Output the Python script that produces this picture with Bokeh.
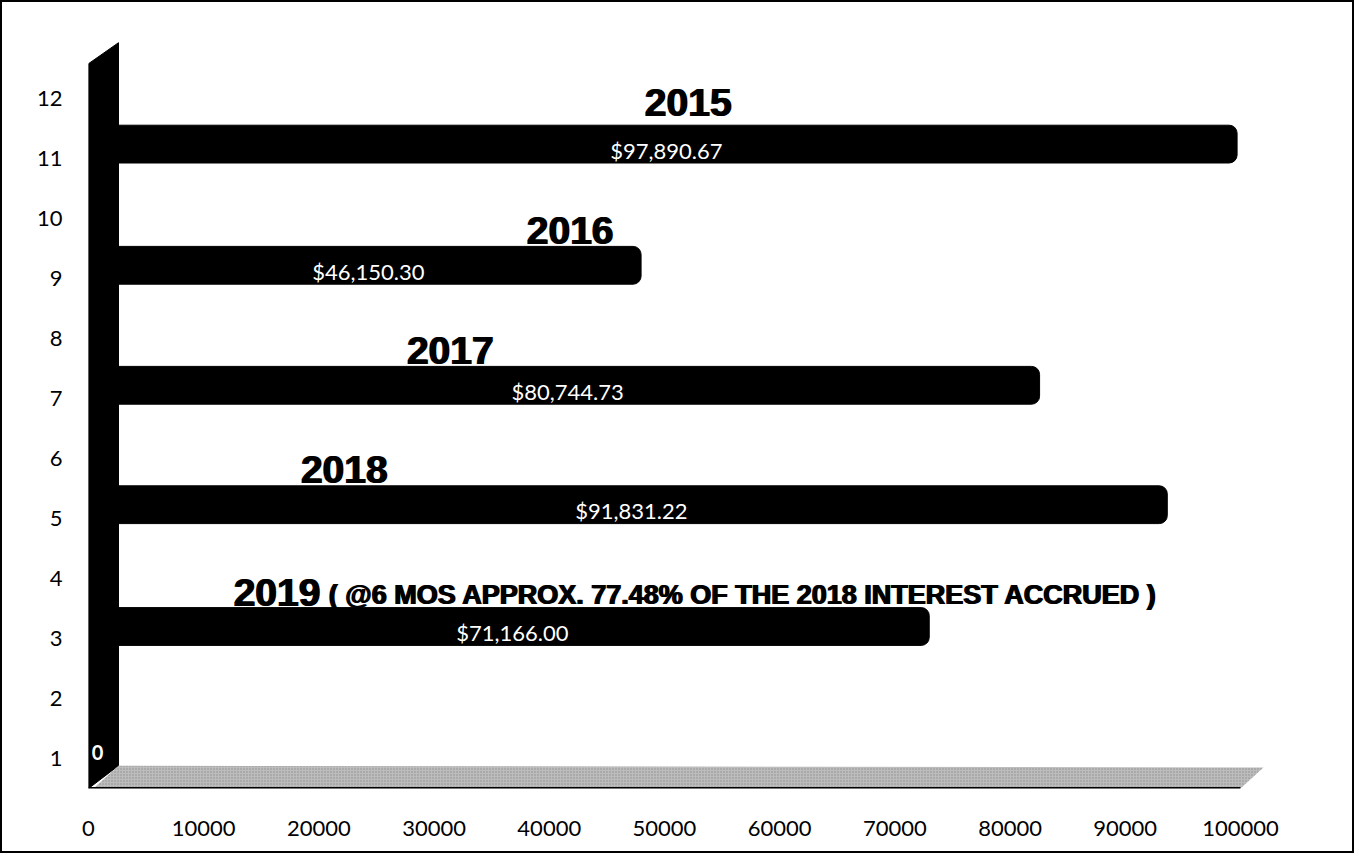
from bokeh.plotting import figure
from bokeh.models import Range1d, FixedTicker, NumeralTickFormatter, ColumnDataSource, InlineStyleSheet
from bokeh.core.properties import value
from bokeh.embed import file_html
from bokeh.resources import INLINE

# ---- data ----
years = ["2015", "2016", "2017", "2018", "2019"]
amounts = [97890.67, 46150.30, 80744.73, 91831.22, 71166.00]
bar_y = [11.24, 9.22, 7.22, 5.23, 3.20]
year_label_x = [52000, 41750, 31340, 22140, 16300]
year_label_y = [11.93, 9.80, 7.80, 5.82, 3.76]
note_text = "( @6 MOS APPROX. 77.48% OF THE 2018 INTEREST ACCRUED )"
note_x = 20800
note_y = 3.72
x_ticks = [0, 10000, 20000, 30000, 40000, 50000, 60000, 70000, 80000, 90000, 100000]
y_ticks = [1, 2, 3, 4, 5, 6, 7, 8, 9, 10, 11, 12]

# ---- 3D styling constants ----
WALL = 2604      # depth of the back wall, in x units
DEPTH = 1820     # shift of the back plane
FLOOR_TOP = 0.88

W, H = 1354, 853
p = figure(width=W, height=H, output_backend="svg", toolbar_location=None,
           x_range=Range1d(0, 104000), y_range=Range1d(0.5, 13.0),
           min_border_left=86, min_border_right=70, min_border_top=36, min_border_bottom=67)
p.outline_line_color = None
p.grid.grid_line_color = None
p.background_fill_color = "white"
p.border_fill_color = "white"
p.stylesheets = [InlineStyleSheet(css=":host { border: 2px solid #000000; }")]

for ax in (p.xaxis[0], p.yaxis[0]):
    ax.axis_line_color = None
    ax.major_tick_line_color = None
    ax.minor_tick_line_color = None
    ax.major_tick_out = 0
    ax.major_tick_in = 0
    ax.major_label_text_font = "Lato"
    ax.major_label_text_font_size = "22px"
    ax.major_label_text_color = "#000000"
    ax.formatter = NumeralTickFormatter(format="0")
p.xaxis[0].ticker = FixedTicker(ticks=x_ticks)
p.yaxis[0].ticker = FixedTicker(ticks=y_ticks)
p.xaxis[0].major_label_standoff = 32
p.yaxis[0].major_label_standoff = 26

# back wall
p.patch(x=[0, 0, WALL, WALL], y=[0.5, 12.58, 12.93, FLOOR_TOP], fill_color="#000000", line_color="#000000")
# floor
p.patch(x=[434, WALL, x_ticks[-1] + 2000, x_ticks[-1]], y=[0.5, FLOOR_TOP, 0.85, 0.5],
        fill_color="#bcbcbc", line_color=None, hatch_pattern=".", hatch_color="#707070",
        hatch_scale=3, hatch_alpha=0.6)
p.segment(x0=[0], y0=[0.5], x1=[x_ticks[-1]], y1=[0.5], line_color="#000000", line_width=3)

src = ColumnDataSource(dict(
    y=bar_y,
    right=[a + DEPTH for a in amounts],
    lab=["${:,.2f}".format(a) for a in amounts],
    labx=[(WALL + a + DEPTH) / 2 - 1000 for a in amounts],
    laby=[b - 0.1 for b in bar_y],
    yr=years, yrx=year_label_x, yry=year_label_y,
))
p.hbar(y="y", left=WALL, right="right", height=0.63, source=src,
       fill_color="#000000", line_color="#000000", border_radius=(0, 8, 8, 0))

p.text(x="labx", y="laby", text="lab", source=src, text_color="#ffffff",
       text_font=value("Lato"), text_font_size="22px", text_align="center", text_baseline="middle")

for off in (0, 1.5):
    p.text(x="yrx", y="yry", text="yr", source=src, x_offset=off, text_color="#000000",
           text_font=value("'Liberation Sans Narrow', 'Liberation Sans'"), text_font_style="bold",
           text_font_size="39px", text_align="center", text_baseline="middle")
    p.text(x=[note_x], y=[note_y], text=[note_text], x_offset=off, text_color="#000000",
           text_font=value("'Liberation Sans Narrow', 'Liberation Sans'"), text_font_style="bold",
           text_font_size="27px", text_align="left", text_baseline="middle")

# zero label on the wall
p.text(x=[780], y=[1.1], text=["0"], text_color="#ffffff", text_font=value("Lato"),
       text_font_style="bold", text_font_size="20px", text_align="center", text_baseline="middle")

open("out.html", "w").write(file_html(p, INLINE))
